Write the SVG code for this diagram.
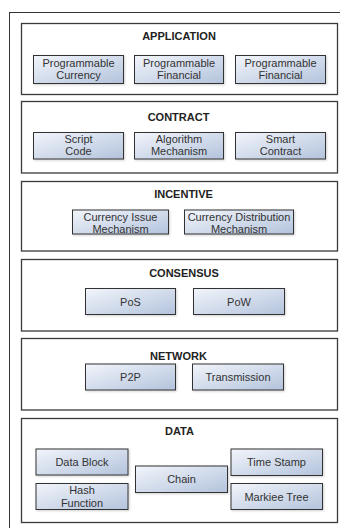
<svg xmlns="http://www.w3.org/2000/svg" width="340" height="528" viewBox="0 0 340 528">
  <defs>
    <linearGradient id="boxFill" x1="0" y1="0" x2="1" y2="1">
      <stop offset="0" stop-color="#f2f5fb"/>
      <stop offset="1" stop-color="#b3c3dc"/>
    </linearGradient>
    <filter id="soft" x="-10%" y="-10%" width="130%" height="140%">
      <feDropShadow dx="1" dy="1" stdDeviation="0.8" flood-color="#000" flood-opacity="0.18"/>
    </filter>
  </defs>
  <style>
    .frame { fill: none; stroke: #333; stroke-width: 1; }
    .panel { fill: #fff; stroke: #3a3a3a; stroke-width: 1.3; }
    .box { fill: url(#boxFill); stroke: #333; stroke-width: 1; filter: url(#soft); }
    .title { font-family: "Liberation Sans", Arial, sans-serif; font-size: 11px; font-weight: bold; fill: #222; text-anchor: middle; }
    .label { font-family: "Liberation Sans", Arial, sans-serif; font-size: 11px; fill: #333; text-anchor: middle; }
  </style>

  <rect width="340" height="528" fill="#fff"/>
  <!-- outer frame, runs off the right and bottom edges -->
  <rect class="frame" x="9.5" y="12.5" width="340" height="530"/>

  <g id="connectors"></g>

  <!-- APPLICATION layer -->
  <g id="application">
    <rect class="panel" x="21.5" y="23.5" width="316" height="71"/>
    <text class="title" x="179" y="40">APPLICATION</text>
    <g id="programmable-currency">
      <rect class="box" x="33.5" y="55.5" width="90" height="28"/>
      <text class="label" x="78.5" y="66.5">Programmable</text>
      <text class="label" x="78.5" y="79">Currency</text>
    </g>
    <g id="programmable-financial-1">
      <rect class="box" x="134.5" y="55.5" width="89" height="28"/>
      <text class="label" x="179" y="66.5">Programmable</text>
      <text class="label" x="179" y="79">Financial</text>
    </g>
    <g id="programmable-financial-2">
      <rect class="box" x="235.5" y="55.5" width="90" height="28"/>
      <text class="label" x="280.5" y="66.5">Programmable</text>
      <text class="label" x="280.5" y="79">Financial</text>
    </g>
  </g>

  <!-- CONTRACT layer -->
  <g id="contract">
    <rect class="panel" x="21.5" y="101.5" width="316" height="71.5"/>
    <text class="title" x="178.5" y="121">CONTRACT</text>
    <g id="script-code">
      <rect class="box" x="33.5" y="132.5" width="90" height="26.5"/>
      <text class="label" x="78.5" y="142.5">Script</text>
      <text class="label" x="78.5" y="155">Code</text>
    </g>
    <g id="algorithm-mechanism">
      <rect class="box" x="134.5" y="132.5" width="89" height="26.5"/>
      <text class="label" x="179" y="142.5">Algorithm</text>
      <text class="label" x="179" y="155">Mechanism</text>
    </g>
    <g id="smart-contract">
      <rect class="box" x="235.5" y="132.5" width="90" height="26.5"/>
      <text class="label" x="280.5" y="142.5">Smart</text>
      <text class="label" x="280.5" y="155">Contract</text>
    </g>
  </g>

  <!-- INCENTIVE layer -->
  <g id="incentive">
    <rect class="panel" x="21.5" y="181.5" width="316" height="69.5"/>
    <text class="title" x="183.5" y="197.5">INCENTIVE</text>
    <g id="currency-issue">
      <rect class="box" x="72.5" y="210" width="96" height="24"/>
      <text class="label" x="120.5" y="220.5">Currency Issue</text>
      <text class="label" x="120.5" y="233">Mechanism</text>
    </g>
    <g id="currency-distribution">
      <rect class="box" x="184.5" y="210" width="109" height="24"/>
      <text class="label" x="239" y="220.5">Currency Distribution</text>
      <text class="label" x="239" y="233">Mechanism</text>
    </g>
  </g>

  <!-- CONSENSUS layer -->
  <g id="consensus">
    <rect class="panel" x="21.5" y="259.5" width="316" height="71.5"/>
    <text class="title" x="184" y="276.5">CONSENSUS</text>
    <g id="pos">
      <rect class="box" x="85.5" y="288.5" width="90" height="26"/>
      <text class="label" x="130.5" y="305.5">PoS</text>
    </g>
    <g id="pow">
      <rect class="box" x="193.5" y="288.5" width="91" height="26"/>
      <text class="label" x="239" y="305.5">PoW</text>
    </g>
  </g>

  <!-- NETWORK layer -->
  <g id="network">
    <rect class="panel" x="21.5" y="338.5" width="316" height="71.5"/>
    <text class="title" x="178.5" y="360">NETWORK</text>
    <g id="p2p">
      <rect class="box" x="85.5" y="364" width="90" height="26"/>
      <text class="label" x="130.5" y="381">P2P</text>
    </g>
    <g id="transmission">
      <rect class="box" x="192.5" y="364" width="91" height="26"/>
      <text class="label" x="238" y="381">Transmission</text>
    </g>
  </g>

  <!-- DATA layer -->
  <g id="data">
    <rect class="panel" x="21.5" y="418.5" width="316" height="104"/>
    <text class="title" x="179.5" y="434.5">DATA</text>
    <g id="data-block">
      <rect class="box" x="36" y="449" width="92" height="26"/>
      <text class="label" x="82" y="466">Data Block</text>
    </g>
    <g id="hash-function">
      <rect class="box" x="36" y="483.5" width="92" height="26"/>
      <text class="label" x="82" y="494">Hash</text>
      <text class="label" x="82" y="507">Function</text>
    </g>
    <g id="chain">
      <rect class="box" x="135.5" y="466" width="92" height="26.5"/>
      <text class="label" x="181.5" y="483">Chain</text>
    </g>
    <g id="time-stamp">
      <rect class="box" x="231" y="449" width="91.5" height="26.5"/>
      <text class="label" x="276.5" y="466">Time Stamp</text>
    </g>
    <g id="markiee-tree">
      <rect class="box" x="231" y="483.5" width="91.5" height="26"/>
      <text class="label" x="276.5" y="500.5">Markiee Tree</text>
    </g>
  </g>
</svg>
